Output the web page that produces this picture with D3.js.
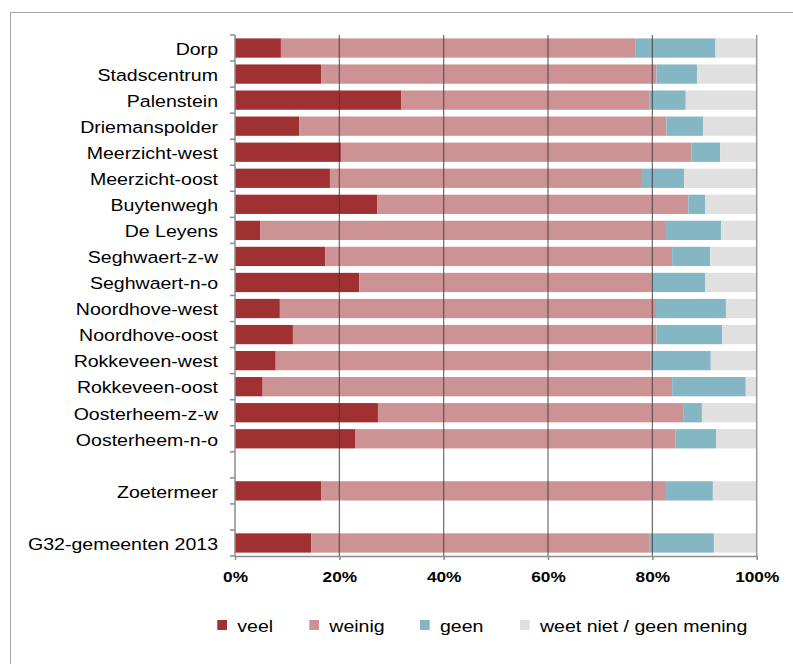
<!DOCTYPE html>
<html>
<head>
<meta charset="utf-8">
<script src="https://cdn.jsdelivr.net/npm/d3@7"></script>
<style>
  html, body { margin: 0; padding: 0; background: #fff; }
  svg { display: block; font-family: "Liberation Sans", Arial, sans-serif; }
</style>
</head>
<body>
<svg id="chart" width="793" height="664"></svg>
<script>
// Categories ("" and " " are the empty spacer rows)
const categories = ["Dorp", "Stadscentrum", "Palenstein", "Driemanspolder", "Meerzicht-west",
  "Meerzicht-oost", "Buytenwegh", "De Leyens", "Seghwaert-z-w", "Seghwaert-n-o",
  "Noordhove-west", "Noordhove-oost", "Rokkeveen-west", "Rokkeveen-oost",
  "Oosterheem-z-w", "Oosterheem-n-o", "", "Zoetermeer", " ", "G32-gemeenten 2013"];

const seriesNames = ["veel", "weinig", "geen", "weet niet / geen mening"];
const seriesColors = ["#a03133", "#cd9394", "#85b6c3", "#e0e0e0"];

const veel    = [8.8, 16.5, 31.9, 12.3, 20.3, 18.2, 27.3, 4.8, 17.3, 23.8, 8.6, 11.1, 7.8, 5.3, 27.4, 23.1, null, 16.5, null, 14.6];
const weinig  = [67.9, 64.3, 47.5, 70.4, 67.2, 59.8, 59.6, 77.8, 66.5, 56.1, 72.1, 69.7, 71.9, 78.5, 58.5, 61.3, null, 66.1, null, 64.9];
const geen    = [15.4, 7.8, 7.0, 7.0, 5.5, 8.1, 3.2, 10.6, 7.3, 10.2, 13.4, 12.6, 11.5, 14.1, 3.6, 7.8, null, 9.0, null, 12.3];
const weetNiet= [7.9, 11.4, 13.6, 10.3, 7.0, 13.9, 9.9, 6.8, 8.9, 9.9, 5.9, 6.6, 8.8, 2.1, 10.5, 7.8, null, 8.4, null, 8.2];

const xTicks = [0, 20, 40, 60, 80, 100];

const svg = d3.select("#chart");
const SX = 1.15; // horizontal text stretch of the original

// Outer frame
svg.append("rect").attr("x", 10.5).attr("y", 12.5).attr("width", 800).attr("height", 700)
  .attr("fill", "none").attr("stroke", "#a6a6a6").attr("stroke-width", 1);

const x = d3.scaleLinear().domain([0, 100]).range([235, 756.7]);
const y = d3.scaleBand().domain(categories).range([35, 556]).paddingInner(0.26).paddingOuter(0.13);

// Build stacked data
const table = categories.map((c, i) => ({
  cat: c, veel: veel[i], weinig: weinig[i], geen: geen[i], weet: weetNiet[i]
})).filter(d => d.veel !== null);
const keys = ["veel", "weinig", "geen", "weet"];
const stack = d3.stack().keys(keys)(table);

const gBars = svg.append("g");
stack.forEach((layer, li) => {
  gBars.selectAll(null).data(layer).enter().append("rect")
    .attr("x", d => x(d[0]))
    .attr("width", d => Math.max(0, x(Math.min(100, d[1])) - x(d[0])))
    .attr("y", d => y(d.data.cat))
    .attr("height", y.bandwidth())
    .attr("fill", seriesColors[li]);
});

// Vertical gridlines (drawn over the bars)
svg.append("g").selectAll("line").data([20, 40, 60, 80]).enter().append("line")
  .attr("x1", d => x(d)).attr("x2", d => x(d))
  .attr("y1", 35).attr("y2", 556)
  .attr("stroke", "#3a3a3a").attr("stroke-opacity", 0.75).attr("stroke-width", 1.2);
svg.append("line").attr("x1", x(100)).attr("x2", x(100)).attr("y1", 35).attr("y2", 556)
  .attr("stroke", "#9a9a9a").attr("stroke-width", 1.5);

// X axis
const xAxis = svg.append("g").attr("transform", "translate(0,556)")
  .call(d3.axisBottom(x).tickValues(xTicks).tickSize(4).tickSizeOuter(0).tickFormat(d => d + "%"));
xAxis.select(".domain").attr("stroke", "#8c8c8c").attr("stroke-width", 1.5);
xAxis.selectAll(".tick line").attr("stroke", "#8c8c8c").attr("stroke-width", 1.5);
xAxis.selectAll(".tick text")
  .attr("y", 26.5).attr("dy", null)
  .attr("font-size", 15).attr("font-weight", "bold").attr("fill", "#000")
  .attr("font-family", "'Liberation Sans', Arial, sans-serif")
  .attr("transform", `scale(${SX},1)`);

// Y axis (line + ticks at category boundaries)
const step = y.step();
const bounds = categories.map(c => y(c) - step * y.paddingOuter());
bounds.push(556);
const gY = svg.append("g");
gY.append("line").attr("x1", 235).attr("x2", 235).attr("y1", 35).attr("y2", 556)
  .attr("stroke", "#8c8c8c").attr("stroke-width", 1.5);
gY.selectAll(".yt").data(bounds).enter().append("line")
  .attr("x1", 230).attr("x2", 235).attr("y1", d => d).attr("y2", d => d)
  .attr("stroke", "#8c8c8c").attr("stroke-width", 1.5);

// Category labels
svg.append("g").selectAll("text").data(categories.filter(c => c.trim() !== "")).enter().append("text")
  .attr("transform", d => `translate(218,${y(d) + y.bandwidth() / 2 + 6.8}) scale(${SX},1)`)
  .attr("text-anchor", "end").attr("font-size", 17).attr("fill", "#000")
  .text(d => d);

// Legend
const legendX = [217.3, 309.3, 420, 520];
const gL = svg.append("g");
seriesNames.forEach((name, i) => {
  gL.append("rect").attr("x", legendX[i]).attr("y", 620).attr("width", 9.7).attr("height", 10)
    .attr("fill", seriesColors[i]);
  gL.append("text")
    .attr("transform", `translate(${legendX[i] + 20},632.3) scale(${SX},1)`)
    .attr("font-size", 17).attr("fill", "#000").text(name);
});
</script>
</body>
</html>
